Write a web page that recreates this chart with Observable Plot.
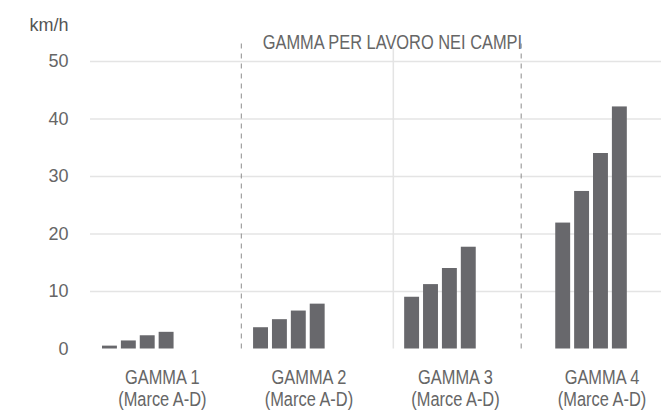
<!DOCTYPE html>
<html><head><meta charset="utf-8">
<script src="https://cdn.jsdelivr.net/npm/d3@7"></script>
<script src="https://cdn.jsdelivr.net/npm/@observablehq/plot@0.6"></script>
<style>body{margin:0;background:#fff} svg{display:block}</style>
</head><body><div id="chart"></div>
<script>
// ---- data ----
const groups = ["GAMMA 1", "GAMMA 2", "GAMMA 3", "GAMMA 4"];
const subLabel = "(Marce A-D)";
const brands = ["A", "B", "C", "D"];
const gamma1 = [0.5, 1.4, 2.3, 2.9];
const gamma2 = [3.7, 5.1, 6.6, 7.8];
const gamma3 = [9.0, 11.2, 14.0, 17.7];
const gamma4 = [21.9, 27.4, 34.0, 42.1];
const yTicks = [0, 10, 20, 30, 40, 50];
const unitLabel = "km/h";
const title = "GAMMA PER LAVORO NEI CAMPI";

// ---- layout helpers (slot units on a linear x scale) ----
const series = [gamma1, gamma2, gamma3, gamma4];
const slot = 8, barW = 0.79;
const rows = series.flatMap((vals, g) => vals.map((v, i) => ({
  group: groups[g], brand: brands[i], value: v,
  x1: g * slot + i, x2: g * slot + i + barW
})));
const labels = groups.map((g, k) => ({label: g + "\n" + subLabel, x: 3.17 + k * 7.76}));
const dividers = [{x: 7.35, dashed: true}, {x: 15.4, dashed: false}, {x: 22.17, dashed: true}];

const chart = Plot.plot({
  width: 661, height: 411,
  marginLeft: 90, marginRight: 0, marginTop: 61, marginBottom: 62.5,
  x: {domain: [-0.635, 29.6], axis: null},
  y: {domain: [0, 50], axis: null},
  style: {fontFamily: "'Liberation Sans', Arial, sans-serif", color: "#666", background: "#fff"},
  marks: [
    Plot.ruleY(yTicks.filter(d => d > 0), {y: d => d, stroke: "#e4e4e4", strokeWidth: 1.3}),
    Plot.ruleX(dividers.filter(d => !d.dashed), {x: "x", y1: 0, y2: 52.3, stroke: "#e4e4e4", strokeWidth: 1.5}),
    Plot.ruleX(dividers.filter(d => d.dashed), {x: "x", y1: 0, y2: 53.1, stroke: "#8c8c8c", strokeWidth: 1, strokeDasharray: "5,5"}),
    Plot.rectY(rows, {x1: "x1", x2: "x2", y1: 0, y2: "value", fill: "#68686c"}),
    Plot.axisY(yTicks, {tickSize: 0, tickPadding: 22, fontSize: 18, fill: "#666", label: null}),
    Plot.text([unitLabel], {frameAnchor: "top-left", textAnchor: "end", lineAnchor: "top", dx: -22, dy: -42.8, fontSize: 18, fill: "#555"}),
    Plot.text(labels, {x: "x", text: "label", frameAnchor: "bottom", lineAnchor: "top", dy: 19.3, fontSize: 20, lineHeight: 1.1, fill: "#666", className: "narrow"}),
    Plot.text([title], {x: () => 15.35, frameAnchor: "top", lineAnchor: "bottom", dy: -12.2, fontSize: 20, fill: "#666", className: "narrow"})
  ]
});
document.getElementById("chart").appendChild(chart);

// emulate a condensed typeface: squeeze glyphs to 82% of their natural width
d3.select(chart).selectAll("g.narrow text").each(function () {
  const spans = this.querySelectorAll("tspan");
  const targets = spans.length ? Array.from(spans) : [this];
  for (const t of targets) {
    const w = t.getComputedTextLength();
    t.setAttribute("lengthAdjust", "spacingAndGlyphs");
    t.setAttribute("textLength", (w * 0.82).toFixed(1));
  }
});
</script>
</body></html>
